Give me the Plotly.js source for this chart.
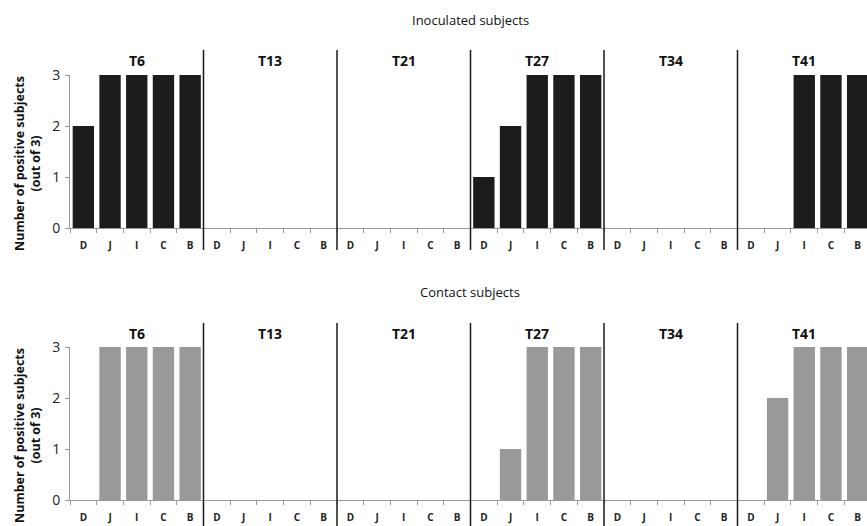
<!DOCTYPE html>
<html>
<head>
<meta charset="utf-8">
<script src="https://cdn.plot.ly/plotly-3.0.1.min.js"></script>
<style>html,body{margin:0;padding:0;background:#fff;}#chart{width:867px;height:526px;}</style>
</head>
<body>
<div id="chart"></div>
<script>
const groups = ['T6', 'T13', 'T21', 'T27', 'T34', 'T41'];
const subcats = ['D', 'J', 'I', 'C', 'B'];
const inoculated = [2,3,3,3,3, 0,0,0,0,0, 0,0,0,0,0, 1,2,3,3,3, 0,0,0,0,0, 0,0,3,3,3];
const contact    = [0,3,3,3,3, 0,0,0,0,0, 0,0,0,0,0, 0,1,3,3,3, 0,0,0,0,0, 0,2,3,3,3];
const panelTitles = ['Inoculated subjects', 'Contact subjects'];
const yTitle = 'Number of positive subjects<br>(out of 3)';

const cats = [];
const tickText = [];
groups.forEach(g => subcats.forEach(s => { cats.push(g + ' ' + s); tickText.push(s); }));

const FONT = 'Open Sans, Liberation Sans, sans-serif';

const traces = [
  {type: 'bar', x: cats, y: inoculated, xaxis: 'x', yaxis: 'y', marker: {color: '#1c1c1c'}, hoverinfo: 'skip'},
  {type: 'bar', x: cats, y: contact, xaxis: 'x2', yaxis: 'y2', marker: {color: '#999999'}, hoverinfo: 'skip'}
];

function xax(anchor) {
  return {
    anchor: anchor, type: 'category', range: [-0.5, 29.35], domain: [0, 1],
    tickmode: 'array', tickvals: cats, ticktext: tickText, tickson: 'boundaries',
    ticks: 'outside', ticklen: 4, tickcolor: '#9a9a9a', tickwidth: 1,
    showline: true, linecolor: '#9a9a9a', linewidth: 1, showgrid: false, zeroline: false,
    tickfont: {family: FONT, size: 10, color: '#222', weight: 'bold'}, ticklabelstandoff: 8,
    fixedrange: true
  };
}
function yax(anchor, dom) {
  return {
    anchor: anchor, range: [0, 3], domain: dom, tickvals: [0,1,2,3],
    ticks: 'outside', ticklen: 4, tickcolor: '#9a9a9a', showline: true, linecolor: '#9a9a9a',
    showgrid: false, zeroline: false, tickfont: {family: FONT, size: 14, color: '#222'},
    ticklabelstandoff: 2, fixedrange: true
  };
}

const H = 526, L = 70, W = 867 - L;
const shapes = [];
const annotations = [];
const panels = [
  {xa: 'x', ya: 'y', zeroPx: 228, topPx: 75, sepTop: 50, sepBot: 250, grpPx: 60, titlePx: 20, yTitlePx: 164},
  {xa: 'x2', ya: 'y2', zeroPx: 500, topPx: 347, sepTop: 323, sepBot: 540, grpPx: 333, titlePx: 292, yTitlePx: 436}
];
panels.forEach((p, i) => {
  const h = p.zeroPx - p.topPx;
  for (let g = 1; g < groups.length; g++) {
    shapes.push({type: 'line', xref: p.xa, yref: p.ya + ' domain', x0: g*5 - 0.5, x1: g*5 - 0.5,
      y0: (p.zeroPx - p.sepBot)/h, y1: (p.zeroPx - p.sepTop)/h, line: {color: '#1a1a1a', width: 1.5}, layer: 'above'});
  }
  groups.forEach((g, gi) => {
    annotations.push({xref: p.xa, yref: p.ya + ' domain', x: gi*5 + 2, y: (p.zeroPx - p.grpPx)/h,
      xanchor: 'center', yanchor: 'middle',
      text: '<b>' + g + '</b>', showarrow: false, font: {family: FONT, size: 14, color: '#111'}});
  });
  annotations.push({xref: 'paper', yref: 'paper', x: (470 - L)/W, y: 1 - p.titlePx/H, xanchor: 'center', yanchor: 'middle',
    text: panelTitles[i], showarrow: false, font: {family: FONT, size: 13, color: '#111'}});
  annotations.push({xref: 'paper', yref: 'paper', x: (27 - L)/W, y: 1 - p.yTitlePx/H, xanchor: 'center', yanchor: 'middle',
    text: '<b>' + yTitle + '</b>', textangle: -90, showarrow: false, font: {family: FONT, size: 12.5, color: '#111'}});
});

const layout = {
  width: 867, height: 526, margin: {l: L, r: 0, t: 0, b: 0},
  paper_bgcolor: '#fff', plot_bgcolor: '#fff', showlegend: false, bargap: 0.2,
  font: {family: FONT},
  xaxis: xax('y'), yaxis: yax('x', [1 - 228/H, 1 - 75/H]),
  xaxis2: xax('y2'), yaxis2: yax('x2', [1 - 500/H, 1 - 347/H]),
  shapes: shapes, annotations: annotations
};

Plotly.newPlot('chart', traces, layout, {displayModeBar: false, staticPlot: true});
</script>
</body>
</html>
